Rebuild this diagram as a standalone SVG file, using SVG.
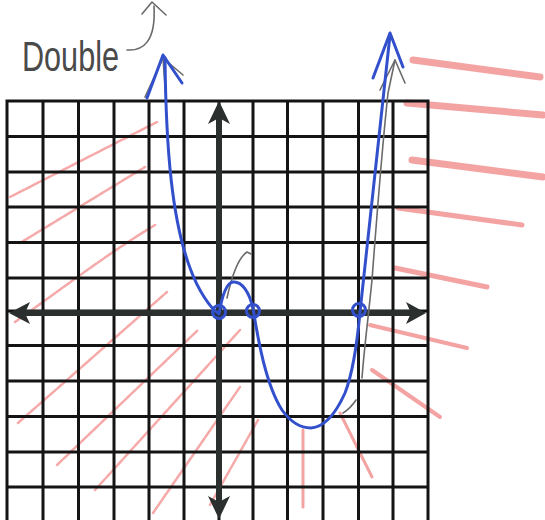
<svg xmlns="http://www.w3.org/2000/svg" width="545" height="520" viewBox="0 0 545 520">
<style>
.grid{stroke:#141414;stroke-width:3;fill:none}
.axis{stroke:#2b302f;stroke-width:6;fill:none}
.axhead{fill:#2b302f}
.red{stroke:#e8403f;stroke-linecap:round;fill:none;opacity:0.45;stroke-dasharray:7 1.5}
.redthick{stroke:#ea4848;stroke-linecap:round;fill:none;opacity:0.5}
.blue{stroke:#3350cc;stroke-width:3;fill:none;stroke-linecap:round;stroke-linejoin:round}
.pencil{stroke:#6a6a6a;stroke-width:1.6;fill:none;stroke-linecap:round;stroke-linejoin:round}
.label{font-family:"Liberation Sans","DejaVu Sans",sans-serif;fill:#4a4a4a}
</style>
<rect width="545" height="520" fill="#ffffff"/>

<g id="shading">
<path class="red" stroke-width="2.5" d="M10,197 L157,122"/>
<path class="red" stroke-width="2.5" d="M20,243 L145,167"/>
<path class="red" stroke-width="2.5" d="M15,322 C60,290 110,252 155,225"/>
<path class="red" stroke-width="2.5" d="M18,423 L167,292"/>
<path class="red" stroke-width="2.5" d="M57,465 L198,330"/>
<path class="red" stroke-width="2.5" d="M95,490 L240,330"/>
<path class="red" stroke-width="2.5" d="M153,513 L240,387"/>
<path class="red" stroke-width="2.5" d="M210,505 L258,420"/>
<path class="redthick" stroke-width="7" d="M413,60 L540,77"/>
<path class="redthick" stroke-width="7" d="M407,103 L543,115"/>
<path class="redthick" stroke-width="7" d="M412,160 L543,177"/>
<path class="redthick" stroke-width="5" d="M398,208 L522,225"/>
<path class="redthick" stroke-width="5" d="M395,268 L487,287"/>
<path class="redthick" stroke-width="4" d="M370,325 L467,348"/>
<path class="redthick" stroke-width="4" d="M372,370 L440,417"/>
<path class="redthick" stroke-width="3" d="M340,413 L372,477"/>
<path class="redthick" stroke-width="3" d="M303,430 L303,507"/>
</g>

<g id="grid">
<rect class="grid" x="7" y="101" width="421" height="421"/>
<path class="grid" d="M43,101V522 M78.5,101V522 M114,101V522 M149,101V522 M184,101V522 M219,101V522 M253,101V522 M287.5,101V522 M323,101V522 M358.5,101V522 M393,101V522"/>
<path class="grid" d="M7,136.5H428 M7,172H428 M7,207H428 M7,242.5H428 M7,278H428 M7,311H428 M7,345.5H428 M7,381H428 M7,416.5H428 M7,452H428 M7,487H428"/>
</g>

<g id="axes">
<path class="axis" d="M219,116 V504"/>
<path class="axis" d="M24,313 H412"/>
<path class="axhead" d="M219,101 L230,124 L219,118 L208,124 Z"/>
<path class="axhead" d="M219,519 L230,496 L219,502 L208,496 Z"/>
<path class="axhead" d="M9,313 L30,302 L25,313 L30,324 Z"/>
<path class="axhead" d="M426,313 L406,302 L411,313 L406,324 Z"/>
</g>

<g id="pencil-marks">
<path class="pencil" d="M145,97 L163,58 L183,75"/>
<path class="pencil" d="M163,58 L166,100"/>
<path class="pencil" d="M380,90 L395,60 L405,83"/>
<path class="pencil" d="M395,60 L388,93 C384,130 378,200 372,280 C368,320 364,350 362,378"/>
<path class="pencil" d="M227,298 C232,275 238,258 247,252 L251,254"/>
<path class="pencil" d="M343,413 C348,410 352,406 356,400"/>
</g>

<g id="curve">
<path class="blue" d="M165,58 C166,150 172,220 190,268 C198,290 210,308 219,314 C222,296 226,283 233,282 C242,281 249,292 253,308 C258,340 266,385 282,410 C292,424 302,428 311,428 C325,427 336,413 345,393 C352,375 357,345 360,312 C366,250 376,160 390,35"/>
<path class="blue" d="M147,98 L163,55 L182,83"/>
<path class="blue" d="M373,78 L390,33 L403,67"/>
<circle class="blue" cx="219" cy="312" r="6.5" stroke-width="3.5"/>
<circle class="blue" cx="253" cy="311" r="6.5" stroke-width="3.5"/>
<circle class="blue" cx="359" cy="310" r="6.5" stroke-width="3.5"/>
</g>

<g id="annotation">
<text class="label" x="22" y="71" font-size="42" textLength="97" lengthAdjust="spacingAndGlyphs">Double</text>
<path class="pencil" stroke-width="2.4" d="M127,50 C143,51 156,42 154,6"/>
<path class="pencil" stroke-width="2.4" d="M142,14 L152,2 L166,15"/>
</g>
</svg>
